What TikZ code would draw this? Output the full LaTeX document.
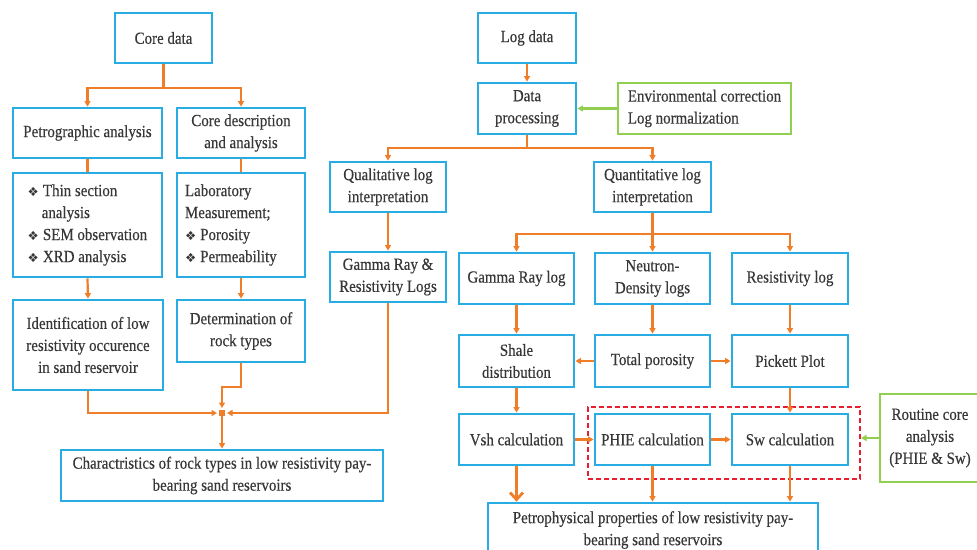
\documentclass[tikz,border=0pt]{standalone}
\usepackage{fontspec}
\setmainfont[FakeStretch=0.88,FakeBold=0.35]{Liberation Serif}
\newfontfamily\symfont{DejaVu Sans}
\usetikzlibrary{arrows.meta,calc}
\definecolor{bl}{RGB}{40,172,228}
\definecolor{org}{RGB}{240,125,40}
\definecolor{grn}{RGB}{146,206,80}
\definecolor{rd}{RGB}{232,30,45}
\definecolor{txt}{RGB}{55,55,55}
\newcommand{\bul}{{\symfont\fontsize{12.5}{12}\selectfont ❖}}
\tikzset{
  box/.style={draw=bl, line width=2.8pt, fill=white, align=center, inner sep=2pt,
    text=txt, font=\fontsize{17}{22}\selectfont},
  gbox/.style={box, draw=grn},
  ln/.style={draw=org, line width=2.2pt},
  arr/.style={ln, -{Triangle[length=5.5pt,width=6pt]}},
  garr/.style={draw=grn, line width=2.2pt, -{Triangle[length=5.5pt,width=6pt]}},
  bigarr/.style={draw=org, line width=2.8pt, -{Straight Barb[length=7pt,width=13pt,line width=2.8pt]}},
}
\begin{document}
\begin{tikzpicture}[x=1pt,y=-1pt]
\useasboundingbox (0,0) rectangle (977,549);
\clip (0,0) rectangle (977,549);
% left column
\node[box, minimum width=97, minimum height=50] (core) at (163.5,38) {Core data};
\node[box, minimum width=149, minimum height=50] (petro) at (87.5,133) {Petrographic analysis};
\node[box, minimum width=128, minimum height=50] (cdesc) at (241,133) {Core description\\and analysis};
\node[box, minimum width=149, minimum height=104, align=left] (thin) at (87.5,225)
  {\bul\hspace{4pt}Thin section\\\hspace*{14pt}analysis\\\bul\hspace{4pt}SEM observation\\\bul\hspace{4pt}XRD analysis};
\node[box, minimum width=128, minimum height=104, align=left, text width=112pt, inner xsep=0pt] (lab) at (241,225)
  {Laboratory\\Measurement;\\\bul\hspace{4pt}Porosity\\\bul\hspace{4pt}Permeability};
\node[box, minimum width=150, minimum height=90] (ident) at (88,345) {Identification of low\\resistivity occurence\\in sand reservoir};
\node[box, minimum width=128, minimum height=62] (determ) at (241,331) {Determination of\\rock types};
\node[box, minimum width=322, minimum height=51] (charact) at (222,475.5) {Charactristics of rock types in low resistivity pay-\\bearing sand reservoirs};
% right part
\node[box, minimum width=98, minimum height=50] (logd) at (527,38) {Log data};
\node[box, minimum width=98, minimum height=51] (dproc) at (527,108.5) {Data\\processing};
\node[gbox, minimum width=173, minimum height=51, align=left] (env) at (704.5,108.5) {Environmental correction\\Log normalization};
\node[box, minimum width=116, minimum height=50] (qual) at (388,187) {Qualitative log\\interpretation};
\node[box, minimum width=117, minimum height=50] (quant) at (652.5,187) {Quantitative log\\interpretation};
\node[box, minimum width=116, minimum height=50] (grr) at (388,277) {Gamma Ray \&\\Resistivity Logs};
\node[box, minimum width=115, minimum height=51] (grlog) at (516.5,278.5) {Gamma Ray log};
\node[box, minimum width=115, minimum height=51] (neut) at (652.5,278.5) {Neutron-\\Density logs};
\node[box, minimum width=116, minimum height=51] (resl) at (790,278.5) {Resistivity log};
\node[box, minimum width=115, minimum height=52] (shale) at (516.5,361) {Shale\\distribution};
\node[box, minimum width=115, minimum height=52] (tpor) at (652.5,361) {Total porosity};
\node[box, minimum width=116, minimum height=52] (pick) at (790,361) {Pickett Plot};
\node[draw=rd, line width=2pt, dash pattern=on 5pt off 3pt, minimum width=272, minimum height=72] (dash) at (724,443) {};
\node[box, minimum width=115, minimum height=51] (vsh) at (516.5,439.5) {Vsh calculation};
\node[box, minimum width=115, minimum height=51] (phie) at (652.5,439.5) {PHIE calculation};
\node[box, minimum width=116, minimum height=51] (sw) at (790,439.5) {Sw calculation};
\node[gbox, minimum width=100, minimum height=88] (rout) at (930,438) {Routine core\\analysis\\(PHIE \& Sw)};
\node[box, minimum width=330, minimum height=54] (pprop) at (653,530) {Petrophysical properties of low resistivity pay-\\bearing sand reservoirs};
% left connectors
\coordinate (c1) at (163.5,88);
\draw[ln] (core.south) -- (c1);
\draw[arr] (c1) -| (petro.north);
\draw[arr] (c1) -| (cdesc.north);
\draw[ln] (petro.south) -- (thin.north);
\draw[ln] (cdesc.south) -- (lab.north);
\draw[arr] (thin.south) -- (ident.north);
\draw[arr] (lab.south) -- (determ.north);
\coordinate (J) at (222,413);
\coordinate (jog) at (222,387);
\draw[arr, shorten >=5pt] (determ.south) |- (jog) -- (J);
\draw[arr, shorten >=5pt] (ident.south) |- (J);
\draw[arr, shorten >=5pt] (grr.south) |- (J);
\fill[org] ($(J)+(-3,-3)$) rectangle ($(J)+(3,3)$);
\draw[arr] (J) -- (charact.north);
% right connectors
\draw[arr] (logd.south) -- (dproc.north);
\draw[garr] (env.west) -- (dproc.east);
\coordinate (c2) at (527,148);
\draw[ln] (dproc.south) -- (c2);
\draw[arr] (c2) -| (qual.north);
\draw[arr] (c2) -| (quant.north);
\draw[arr] (qual.south) -- (grr.north);
\coordinate (c3) at (652.5,234);
\draw[ln] (quant.south) -- (c3);
\draw[arr] (c3) -| (grlog.north);
\draw[arr] (c3) -- (neut.north);
\draw[arr] (c3) -| (resl.north);
\draw[arr] (grlog.south) -- (shale.north);
\draw[arr] (neut.south) -- (tpor.north);
\draw[arr] (resl.south) -- (pick.north);
\draw[arr] (tpor.west) -- (shale.east);
\draw[arr] (tpor.east) -- (pick.west);
\draw[arr] (shale.south) -- (vsh.north);
\draw[arr] (pick.south) -- (sw.north);
\draw[arr] (vsh.east) -- (phie.west);
\draw[arr] (phie.east) -- (sw.west);
\draw[bigarr] (vsh.south) -- (vsh.south |- pprop.north);
\draw[arr] (phie.south) -- (phie.south |- pprop.north);
\draw[arr] (sw.south) -- (sw.south |- pprop.north);
\draw[garr] (rout.west) -- (rout.west -| dash.east);
\end{tikzpicture}
\end{document}
